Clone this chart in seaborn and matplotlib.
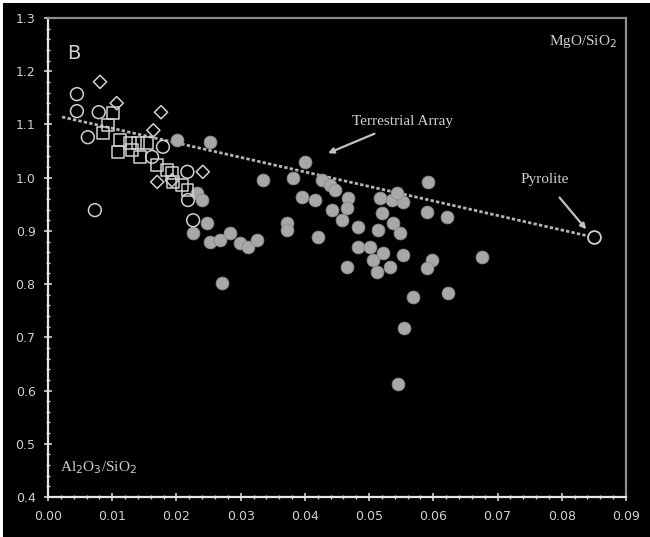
import matplotlib
matplotlib.use("Agg")
import matplotlib.pyplot as plt
from matplotlib.patches import Rectangle
from matplotlib.ticker import MultipleLocator
import seaborn as sns
import pandas as pd

# ---- data (Al2O3/SiO2 vs MgO/SiO2) ----
circ_x = [0.0045, 0.0045, 0.0079, 0.0062, 0.0073, 0.0162, 0.0179, 0.0217, 0.0226, 0.0218]
circ_y = [1.157, 1.125, 1.123, 1.076, 0.939, 1.039, 1.058, 1.011, 0.920, 0.958]

diam_x = [0.0081, 0.0107, 0.0176, 0.0164, 0.0241, 0.0170, 0.0193]
diam_y = [1.180, 1.140, 1.123, 1.089, 1.011, 0.992, 0.995]

sq_x = [0.0101, 0.0086, 0.0093, 0.0112, 0.0109, 0.0128, 0.0140, 0.0131, 0.0143,
        0.0154, 0.0170, 0.0185, 0.0193, 0.0195, 0.0209, 0.0217]
sq_y = [1.121, 1.084, 1.099, 1.071, 1.048, 1.065, 1.065, 1.052, 1.039,
        1.065, 1.024, 1.014, 1.009, 0.992, 0.986, 0.977]

grey_x = [0.0201, 0.0252, 0.0232, 0.0240, 0.0248, 0.0226, 0.0252, 0.0268, 0.0283,
          0.0299, 0.0312, 0.0326, 0.0271, 0.0335, 0.0382, 0.0400, 0.0396, 0.0416,
          0.0427, 0.0439, 0.0447, 0.0372, 0.0372, 0.0421, 0.0442, 0.0467, 0.0466,
          0.0458, 0.0483, 0.0517, 0.0536, 0.0553, 0.0544, 0.0590, 0.0621, 0.0520,
          0.0537, 0.0548, 0.0514, 0.0592, 0.0676, 0.0483, 0.0502, 0.0506, 0.0522,
          0.0512, 0.0533, 0.0553, 0.0466, 0.0598, 0.0590, 0.0569, 0.0623, 0.0555,
          0.0545]
grey_y = [1.071, 1.067, 0.971, 0.958, 0.915, 0.896, 0.879, 0.883, 0.896,
          0.877, 0.870, 0.883, 0.802, 0.995, 0.999, 1.029, 0.964, 0.958,
          0.995, 0.986, 0.977, 0.915, 0.902, 0.888, 0.939, 0.962, 0.943,
          0.920, 0.907, 0.962, 0.958, 0.954, 0.971, 0.935, 0.926, 0.933,
          0.915, 0.896, 0.902, 0.992, 0.851, 0.870, 0.870, 0.845, 0.858,
          0.823, 0.832, 0.855, 0.832, 0.845, 0.830, 0.776, 0.783, 0.717,
          0.612]

array_x = [0.0022, 0.0850]
array_y = [1.114, 0.888]
pyrolite_x = [0.0850]
pyrolite_y = [0.888]

x_ticks = [0.00, 0.01, 0.02, 0.03, 0.04, 0.05, 0.06, 0.07, 0.08, 0.09]
y_ticks = [0.4, 0.5, 0.6, 0.7, 0.8, 0.9, 1.0, 1.1, 1.2, 1.3]

# ---- figure ----
sns.set_style("dark")
W, H = 650, 537
fig = plt.figure(figsize=(W / 100, H / 100), dpi=100, facecolor="white")
fig.patches.append(Rectangle((3 / W, 0), 1, 1 - 3 / H, transform=fig.transFigure,
                             facecolor="black", edgecolor="none", zorder=-10))
ax = fig.add_axes([48 / W, 40 / H, 578 / W, 479 / H])
ax.set_facecolor("black")

edge = "#d0d0d0"
fill = "#a8a8a8"

sns.lineplot(x=array_x, y=array_y, ax=ax, color="#b5b5b5", lw=2.0,
             linestyle=(0, (1.2, 0.8)), zorder=2)

sns.scatterplot(x=grey_x, y=grey_y, ax=ax, marker="o", s=85, color=fill,
                edgecolor="#8a8a8a", linewidth=0.6, zorder=3)
sns.scatterplot(x=sq_x, y=sq_y, ax=ax, marker="s", s=70, facecolor="none",
                edgecolor=edge, linewidth=1.1, zorder=4)
sns.scatterplot(x=circ_x, y=circ_y, ax=ax, marker="o", s=85, facecolor="none",
                edgecolor=edge, linewidth=1.1, zorder=4)
sns.scatterplot(x=diam_x, y=diam_y, ax=ax, marker="D", s=45, facecolor="none",
                edgecolor=edge, linewidth=1.1, zorder=4)
sns.scatterplot(x=pyrolite_x, y=pyrolite_y, ax=ax, marker="o", s=85,
                facecolor="black", edgecolor=edge, linewidth=1.3, zorder=5)

ax.set_xlim(0.0, 0.09)
ax.set_ylim(0.4, 1.3)
ax.set_xticks(x_ticks)
ax.set_xticklabels([f"{v:.2f}" for v in x_ticks])
ax.set_yticks(y_ticks)
ax.set_yticklabels([f"{v:.1f}" for v in y_ticks])
ax.xaxis.set_minor_locator(MultipleLocator(0.002))
ax.yaxis.set_minor_locator(MultipleLocator(0.02))
ax.grid(False)
ax.set_xlabel("")
ax.set_ylabel("")

ax.tick_params(which="major", direction="inout", length=6, width=1.2,
               color=edge, labelcolor="#d0d0d0", labelsize=9, pad=6,
               bottom=True, left=True)
ax.tick_params(which="minor", direction="inout", length=3, width=1.0,
               color=edge, bottom=True, left=True)

for s in ["left", "bottom"]:
    ax.spines[s].set_color("#e6e6e6")
    ax.spines[s].set_linewidth(1.6)
for s in ["top", "right"]:
    ax.spines[s].set_color("#8c8c8c")
    ax.spines[s].set_linewidth(1.6)

txt = "#d0d0d0"
serif = ["Liberation Serif", "DejaVu Serif"]
ax.text(0.033, 0.925, "B", transform=ax.transAxes, color=txt, fontsize=14,
        ha="left", va="center", family="DejaVu Sans")
ax.text(0.984, 0.95, "MgO/SiO$_2$", transform=ax.transAxes, color=txt,
        fontsize=11, ha="right", va="center", family=serif)
ax.text(0.02, 0.061, "Al$_2$O$_3$/SiO$_2$", transform=ax.transAxes, color=txt,
        fontsize=11, ha="left", va="center", family=serif)

ax.annotate("Terrestrial Array", xy=(0.0436, 1.046), xytext=(0.0474, 1.105),
            color=txt, fontsize=11, family=serif, ha="left", va="center",
            arrowprops=dict(arrowstyle="-|>", color="#c0c0c0", lw=1.6,
                            shrinkA=4, shrinkB=0, mutation_scale=8))
ax.annotate("Pyrolite", xy=(0.0838, 0.903), xytext=(0.0735, 0.997),
            color=txt, fontsize=11, family=serif, ha="left", va="center",
            arrowprops=dict(arrowstyle="-|>", color="#c0c0c0", lw=1.6,
                            shrinkA=8, shrinkB=0, mutation_scale=8))

fig.savefig("out.png", dpi=100, facecolor=fig.get_facecolor())
